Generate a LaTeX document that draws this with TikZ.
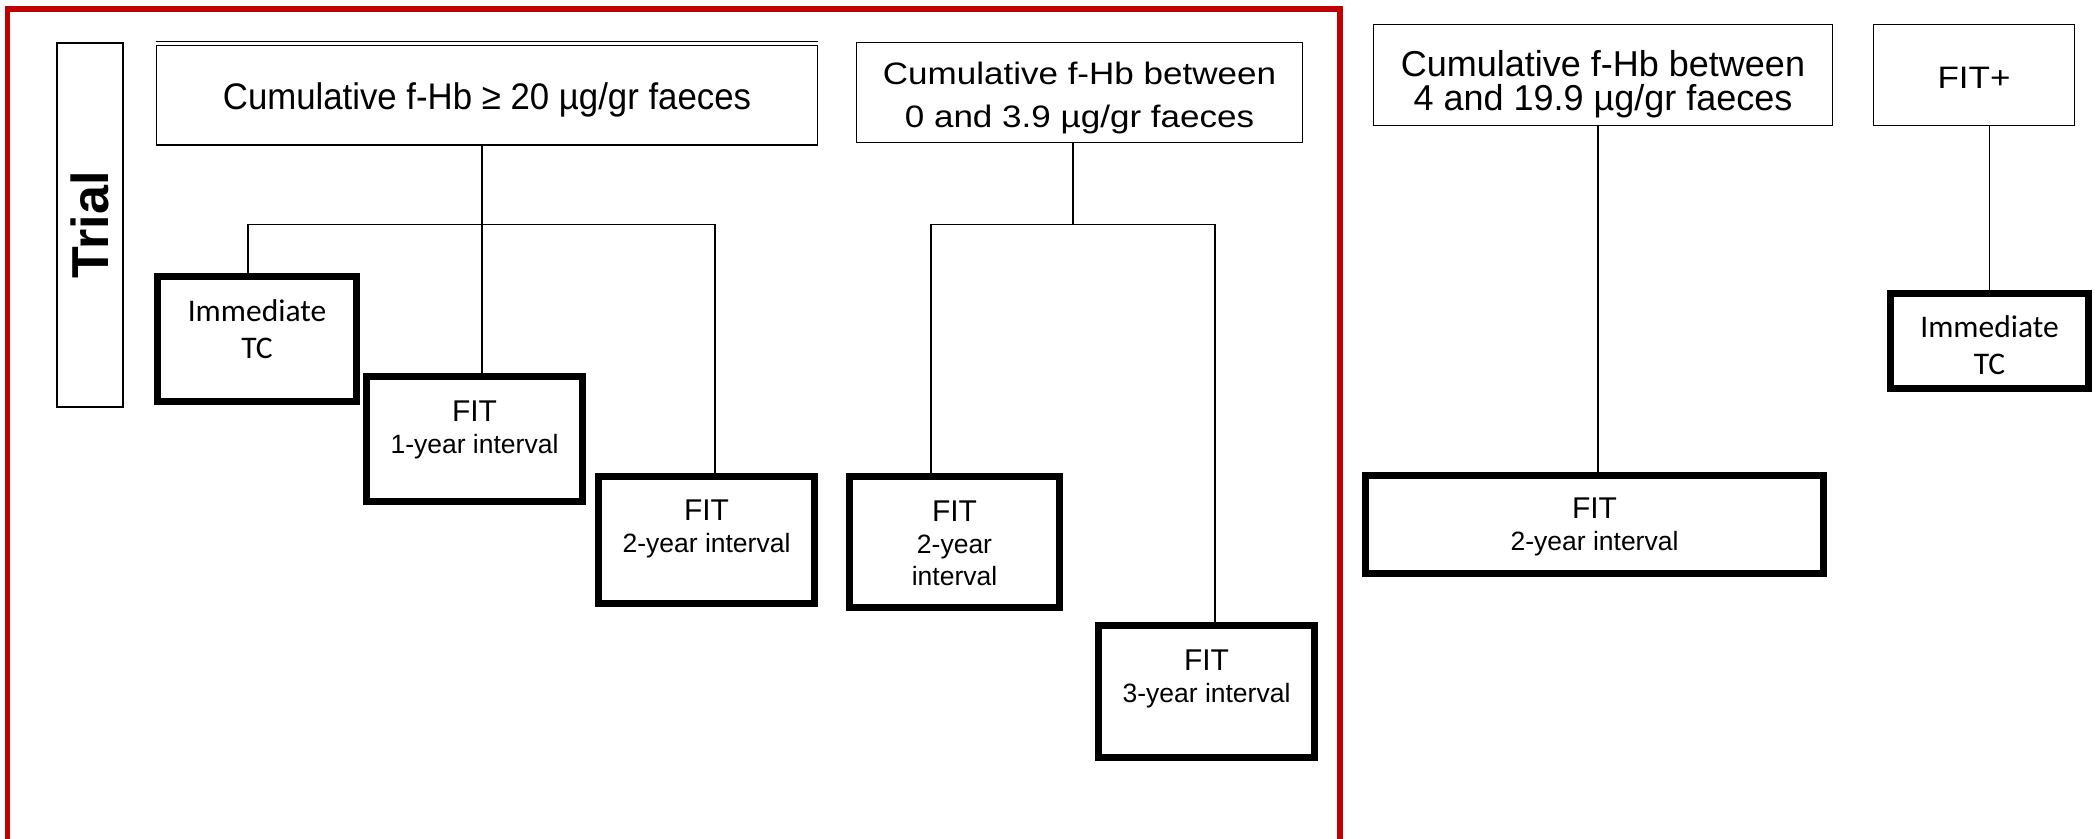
\documentclass[tikz,border=0pt]{standalone}
\usepackage{fontspec}
\setmainfont{Liberation Sans}
\newfontfamily\narrowsans{Liberation Sans}[FakeStretch=0.94]
\newfontfamily\widesans{Liberation Sans}[FakeStretch=1.13]
\newfontfamily\calibrisans{Carlito}
\usetikzlibrary{positioning}
\definecolor{trialred}{RGB}{192,0,0}

\newcommand{\fntA}{\narrowsans\fontsize{18.5}{22}\selectfont}
\newcommand{\fntB}{\widesans\fontsize{15.5}{21.5}\selectfont}
\newcommand{\fntC}{\fontsize{18}{17}\selectfont}
\newcommand{\fntFit}{\fontsize{13.25}{16}\selectfont}
\newcommand{\fntFitHead}{\fontsize{15}{16}\selectfont}
\newcommand{\fntTC}{\calibrisans\fontsize{15.75}{18.5}\selectfont}

\tikzset{
  group/.style={draw,line width=0.7pt,inner sep=0pt},
  advice/.style={draw,line width=3.35pt,inner sep=0pt},
  boxtext/.style={align=center,inner sep=0pt,outer sep=0pt},
  link/.style={line width=0.7pt},
}

% style, name, centre, width, height, text offset, font, text
\providecommand{\Panel}[8]{
\node[#1,minimum width=#4,minimum height=#5] (#2) at (#3) {};
\node[boxtext,font=#7,below=#6 of #2.north] (#2-text) {#8};
}

\begin{document}
\begin{tikzpicture}[x=0.5pt,y=-0.5pt]
\useasboundingbox (0,0) rectangle (2096,839);
\draw[trialred,line width=2.65pt] (7.8,9) rectangle (1340,842);

% trial
\node[group,minimum width=33pt,minimum height=182pt] (trial) at (90,225) {};
\node[rotate=90,inner sep=0pt,font=\fontsize{26}{30}\selectfont\bfseries] (trial-text) at (trial) {Trial};

% criteria
\Panel{group}{high}{487,95.4}{330.3pt}{49.6pt}{19pt}{\fntA}{Cumulative f-Hb ≥ 20 µg/gr faeces}
\draw[link] ([yshift=1.7pt]high.north west) -- ([yshift=1.7pt]high.north east);
\Panel{group}{low}{1079.5,92.5}{223pt}{50pt}{10pt}{\fntB}{Cumulative f-Hb between\\0 and 3.9 µg/gr faeces}
\Panel{group}{mid}{1603,75}{229.5pt}{50.3pt}{13pt}{\fntC}{Cumulative f-Hb between\\4 and 19.9 µg/gr faeces}
\Panel{group}{pos}{1974,75}{100.3pt}{50.3pt}{21.5pt}{\widesans\fontsize{15.5}{18}\selectfont}{FIT+}

% advice
\Panel{advice}{imm1}{257,339}{99.65pt}{62.65pt}{13.5pt}{\fntTC}{Immediate\\TC}
\Panel{advice}{fit1}{474.5,439}{108.15pt}{62.65pt}{14pt}{\fntFit}{{\fntFitHead FIT}\\1-year interval}
\Panel{advice}{fit2a}{706.5,540}{108.15pt}{63.65pt}{13.5pt}{\fntFit}{{\fntFitHead FIT}\\2-year interval}
\Panel{advice}{fit2b}{954.5,542}{105.15pt}{65.65pt}{14pt}{\fntFit}{{\fntFitHead FIT}\\2-year\\interval}
\Panel{advice}{fit3}{1206.5,691.5}{108.15pt}{66.15pt}{14pt}{\fntFit}{{\fntFitHead FIT}\\3-year interval}
\Panel{advice}{fit2c}{1594.5,524.5}{229.15pt}{49.15pt}{13pt}{\fntFit}{{\fntFitHead FIT}\\2-year interval}
\Panel{advice}{imm2}{1989.5,341}{99.15pt}{47.65pt}{13pt}{\fntTC}{Immediate\\TC}

% links
\coordinate (jA) at (482,224.5);
\coordinate (jAl) at (248,224.5);
\coordinate (jAr) at (715,224.5);
\draw[link] (high.south -| jA) -- (jA) -- (fit1.north -| jA);
\draw[link] (imm1.north -| jAl) -- (jAl) -- (jAr) -- (fit2a.north -| jAr);
\coordinate (jB) at (1073,224.6);
\coordinate (jBl) at (931,224.6);
\coordinate (jBr) at (1215,224.6);
\draw[link] (low.south -| jB) -- (jB);
\draw[link] (fit2b.north -| jBl) -- (jBl) -- (jBr) -- (fit3.north -| jBr);
\coordinate (jC) at (1598,300);
\draw[link] (mid.south -| jC) -- (fit2c.north -| jC);
\draw[link] (pos.south -| imm2) -- (imm2.north);
\end{tikzpicture}
\end{document}
